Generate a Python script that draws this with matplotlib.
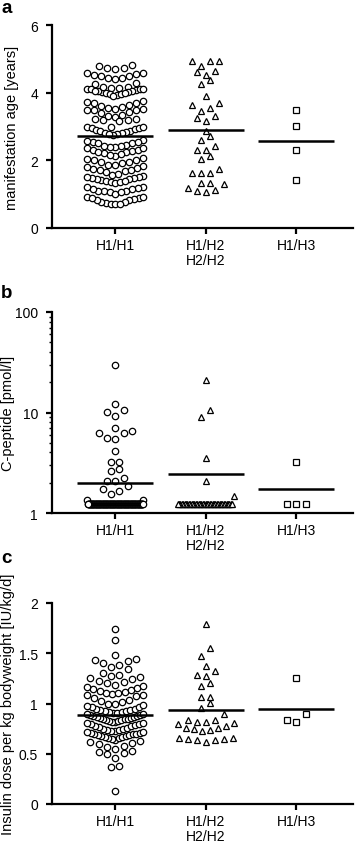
import numpy as np
import matplotlib
matplotlib.use('Agg')
import matplotlib.pyplot as plt

plt.rcParams['font.family'] = ['Liberation Sans', 'DejaVu Sans']

groups = ['H1/H1', 'H1/H2\nH2/H2', 'H1/H3']

# a: manifestation age [years]
age_h1h1 = [4.83, 4.78, 4.72, 4.70, 4.74,
            4.57, 4.55, 4.50, 4.52, 4.42, 4.44, 4.40, 4.50, 4.58,
            4.30, 4.25,
            4.18, 4.15, 4.12, 4.10, 4.08, 4.05, 4.03, 4.02, 4.04, 4.06, 4.10, 4.12, 4.15, 4.17,
            4.00, 3.95, 3.92, 3.90, 3.96, 4.00,
            3.75, 3.73,
            3.68, 3.62, 3.55, 3.52, 3.50, 3.48, 3.50, 3.53, 3.57, 3.65, 3.70,
            3.42, 3.35, 3.28, 3.22, 3.18, 3.15, 3.18, 3.22, 3.30, 3.40,
            3.00, 2.98, 2.95, 2.90, 2.88, 2.85, 2.87, 2.92, 2.95, 2.98,
            2.80, 2.78, 2.75, 2.80, 2.78,
            2.60, 2.55, 2.52, 2.50, 2.55, 2.58,
            2.45, 2.42, 2.40, 2.35, 2.30, 2.28, 2.25, 2.22, 2.25, 2.30, 2.35, 2.40, 2.43,
            2.18, 2.12, 2.05, 2.00, 1.95, 1.92, 1.95, 2.00, 2.08, 2.15,
            1.85, 1.82, 1.78, 1.70, 1.68, 1.65, 1.70, 1.75, 1.80, 1.85,
            1.60, 1.58, 1.55,
            1.50, 1.48, 1.45, 1.42, 1.38, 1.35, 1.32, 1.35, 1.40, 1.45, 1.48, 1.50,
            1.22, 1.18, 1.15, 1.10, 1.08, 1.05, 1.00, 1.05, 1.10, 1.15, 1.20,
            0.92, 0.90, 0.85, 0.82, 0.78, 0.75, 0.72, 0.70, 0.72, 0.78, 0.82, 0.88, 0.92]
age_h1h2 = [4.93, 4.93, 4.93, 4.80, 4.62, 4.52, 4.64, 4.37, 4.25, 3.90,
            3.68, 3.63, 3.55, 3.45, 3.30, 3.25, 3.17, 2.87, 2.72, 2.60,
            2.42, 2.30, 2.30, 2.13, 2.03, 1.73, 1.63, 1.63, 1.63,
            1.29, 1.34, 1.34, 1.10, 1.05, 1.12, 1.17]
age_h1h3 = [3.50, 3.02, 2.32, 1.42]
age_means = [2.72, 2.90, 2.57]

# b: C-peptide [pmol/l], many values at the detection limit
cpep_h1h1 = [29.9, 12.2, 10.2, 10.5, 9.2, 7.0, 6.2, 5.6, 5.4, 6.2, 6.5, 4.1,
             3.2, 3.2, 2.76, 2.6, 2.25, 2.07, 2.1, 1.86, 1.66, 1.56, 1.72,
             1.34, 1.34]
cpep_h1h2 = [21.2, 10.5, 9.0, 3.5, 2.08, 1.48]
cpep_h1h3 = [3.2]
cpep_limit = 1.22
cpep_n_limit = [135, 40, 3]
cpep_means = [2.0, 2.46, 1.75]

# c: insulin dose per kg bodyweight [IU/kg/d]
ins_h1h1 = [0.13, 0.37, 0.38,
            0.46, 0.50, 0.51, 0.52, 0.53, 0.55,
            0.57, 0.58, 0.60, 0.61, 0.62, 0.63, 0.64, 0.65, 0.66, 0.66, 0.67, 0.67,
            0.68, 0.68, 0.69, 0.69, 0.70, 0.70, 0.70, 0.71, 0.71, 0.72, 0.72, 0.73,
            0.73, 0.74, 0.74, 0.75, 0.75, 0.76, 0.77,
            0.78, 0.78, 0.79, 0.80, 0.80, 0.81, 0.81, 0.82, 0.82, 0.83, 0.83, 0.84,
            0.84, 0.85, 0.85, 0.85, 0.86, 0.86, 0.87, 0.87, 0.88, 0.88, 0.89, 0.89,
            0.90, 0.90, 0.91, 0.91, 0.92, 0.92, 0.93, 0.93, 0.94, 0.94, 0.95, 0.95,
            0.97, 0.97, 0.98, 0.99, 1.00, 1.00, 1.01, 1.02, 1.03, 1.05,
            1.07, 1.08, 1.08, 1.09, 1.10, 1.10, 1.11, 1.12, 1.13, 1.14, 1.15, 1.16, 1.17,
            1.18, 1.20, 1.21, 1.22, 1.24, 1.25, 1.26, 1.27, 1.28, 1.30,
            1.34, 1.36, 1.38, 1.40, 1.42, 1.43, 1.44,
            1.48, 1.63, 1.74]
ins_h1h2 = [1.79, 1.55, 1.47, 1.37, 1.32, 1.28, 1.27, 1.20, 1.17, 1.06, 1.06,
            1.005, 0.955, 0.90, 0.84, 0.84, 0.82, 0.82, 0.81, 0.78, 0.80, 0.76,
            0.75, 0.74, 0.76, 0.73, 0.66, 0.65, 0.64, 0.62, 0.64, 0.65, 0.66]
ins_h1h3 = [1.25, 0.90, 0.82, 0.84]
ins_means = [0.89, 0.94, 0.95]

markers = ['o', '^', 's']
msizes = [4.6, 5.0, 4.8]
spacing = [8.3, 9.0, 9.5]   # px between neighbours in a row
halfw = 28                  # px, max spread of a row


def row_spread(ax, pos, vals, d):
    # GraphPad-like scatter: group into rows, spread each row centre-out
    vals = np.asarray(vals, float)
    order = np.argsort(vals, kind='stable')
    ypx = ax.transData.transform(np.column_stack([np.zeros(len(vals)), vals]))[:, 1]
    ppu = ax.transData.transform((1, 0))[0] - ax.transData.transform((0, 0))[0]
    rows, cur = [], [order[0]]
    for i in order[1:]:
        if ypx[i] - ypx[cur[0]] < d:
            cur.append(i)
        else:
            rows.append(cur)
            cur = [i]
    rows.append(cur)
    xs = np.zeros(len(vals))
    for row in rows:
        n = len(row)
        s = d if n < 2 else min(d, 2 * halfw / (n - 1))
        slots = (np.arange(n) - (n - 1) / 2) * s
        slots = slots[np.argsort(np.abs(slots), kind='stable')]
        for k, i in enumerate(row):
            xs[i] = pos + slots[k] / ppu
    return xs


W, H = 357, 845
fig = plt.figure(figsize=(W / 100, H / 100), dpi=100)


def make_axes(top, bottom):
    ax = fig.add_axes([52 / W, 1 - bottom / H, 301 / W, (bottom - top) / H])
    ax.set_xlim(-0.7, 2.63)
    for s in ['top', 'right']:
        ax.spines[s].set_visible(False)
    for s in ['left', 'bottom']:
        ax.spines[s].set_linewidth(1.6)
    ax.tick_params(axis='both', which='major', width=1.6, length=4, labelsize=10)
    ax.tick_params(axis='y', which='minor', width=1.0, length=2.5)
    ax.tick_params(axis='y', pad=6)
    ax.tick_params(axis='x', pad=3.5)
    ax.set_xticks([0, 1, 2])
    ax.set_xticklabels(groups, linespacing=1.05)
    return ax


def draw(ax, data, means):
    for i, vals in enumerate(data):
        xs = row_spread(ax, i, vals, spacing[i])
        ax.plot(xs, vals, linestyle='none', marker=markers[i], ms=msizes[i],
                mfc='white', mec='black', mew=0.9, clip_on=False, zorder=2)
        ax.hlines(means[i], i - 0.42, i + 0.42, colors='black', lw=1.8, zorder=3)


# a
ax1 = make_axes(26, 229)
ax1.set_ylim(0, 6)
ax1.set_yticks([0, 2, 4, 6])
draw(ax1, [age_h1h1, age_h1h2, age_h1h3], age_means)
ax1.set_ylabel('manifestation age [years]', fontsize=10.5)

# b
ax2 = make_axes(313, 514)
ax2.set_yscale('log')
ax2.set_ylim(1, 100)
ax2.set_yticks([1, 10, 100])
ax2.set_yticklabels(['1', '10', '100'])
cdata = [cpep_h1h1 + [cpep_limit] * cpep_n_limit[0],
         cpep_h1h2 + [cpep_limit] * cpep_n_limit[1],
         cpep_h1h3 + [cpep_limit] * cpep_n_limit[2]]
draw(ax2, cdata, cpep_means)
ax2.set_ylabel('C-peptide [pmol/l]', fontsize=10.5)

# c
ax3 = make_axes(604, 805)
ax3.set_ylim(0, 2)
ax3.set_yticks([0, 0.5, 1, 1.5, 2])
ax3.set_yticklabels(['0', '0.5', '1', '1.5', '2'])
draw(ax3, [ins_h1h1, ins_h1h2, ins_h1h3], ins_means)
ax3.set_ylabel('Insulin dose per kg bodyweight [IU/kg/d]', fontsize=10.5)

for ax, xl in [(ax1, -0.133), (ax2, -0.146), (ax3, -0.146)]:
    ax.yaxis.label.set_va('center')
    ax.yaxis.set_label_coords(xl, 0.5)

for letter, base in [('a', 13), ('b', 298), ('c', 563)]:
    fig.text(1 / W, 1 - base / H, letter, fontsize=13.5, fontweight='bold',
             va='baseline', ha='left')

fig.savefig('out.png', dpi=100)
